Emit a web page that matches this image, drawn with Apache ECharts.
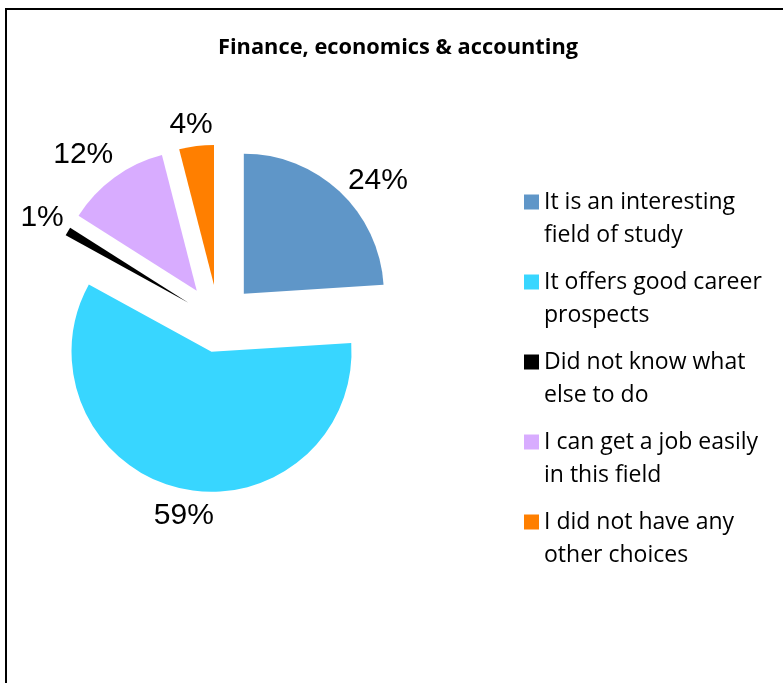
<!DOCTYPE html>
<html>
<head>
<meta charset="utf-8">
<script src="https://cdn.jsdelivr.net/npm/echarts@6/dist/echarts.min.js"></script>
<style>
  html, body { margin: 0; padding: 0; background: #fff; }
  #chart { width: 783px; height: 683px; }
</style>
</head>
<body>
<div id="chart"></div>
<script>
// Reasons for choosing the field, and the share of answers (%)
const reasons = [
  'It is an interesting\nfield of study',
  'It offers good career\nprospects',
  'Did not know what\nelse to do',
  'I can get a job easily\nin this field',
  'I did not have any\nother choices'
];
const shares = [24, 59, 1, 12, 4];

// Presentation settings
const sliceColors = ['#5F96C8', '#38D6FF', '#000000', '#D8ACFF', '#FF7F00'];
const explodeOffsets = [37, 32, 35, 37, 36];
const labelLineLengths = [[15, -2], [28, -39], [28, -20], [27.5, -15], [21.5, -19]];

const total = shares.reduce((a, b) => a + b, 0);

// One pie per slice so every slice can have its own explosion distance;
// the rest of each ring is a transparent filler.
let cumulative = 0;
const series = shares.map((v, i) => {
  const start = 90 - 360 * cumulative / total;
  cumulative += v;
  return {
    type: 'pie',
    center: [218.5, 320.6],
    radius: 140,
    startAngle: start,
    clockwise: true,
    selectedMode: 'multiple',
    selectedOffset: explodeOffsets[i],
    avoidLabelOverlap: false,
    animation: false,
    emphasis: { disabled: true },
    itemStyle: { borderWidth: 0 },
    label: {
      show: true,
      position: 'outside',
      formatter: '{c}%',
      fontFamily: 'Liberation Sans',
      fontSize: 30,
      color: '#000',
      distanceToLabelLine: 0
    },
    labelLine: { show: false, length: labelLineLengths[i][0], length2: labelLineLengths[i][1] },
    data: [
      { name: reasons[i], value: v, selected: true, itemStyle: { color: sliceColors[i] } },
      {
        name: '',
        value: total - v,
        itemStyle: { color: 'rgba(0,0,0,0)' },
        label: { show: false },
        labelLine: { show: false }
      }
    ]
  };
});

const chart = echarts.init(document.getElementById('chart'), null, { renderer: 'canvas' });
chart.setOption({
  backgroundColor: '#fff',
  animation: false,
  title: {
    text: 'Finance, economics & accounting',
    left: 218,
    top: 37,
    padding: 0,
    textStyle: { fontFamily: 'Open Sans', fontWeight: 'bold', fontSize: 21.8, color: '#000' }
  },
  legend: {
    orient: 'vertical',
    left: 524,
    top: 152.5,
    padding: 0,
    itemGap: -19,
    icon: 'rect',
    itemWidth: 15,
    itemHeight: 15,
    selectedMode: false,
    data: reasons,
    // a leading blank line keeps each square level with the first text line
    formatter: name => '\n' + name,
    textStyle: {
      fontFamily: 'Open Sans',
      fontSize: 23,
      color: '#000',
      lineHeight: 33
    }
  },
  graphic: [{
    type: 'rect',
    silent: true,
    shape: { x: 6, y: 9, width: 1000, height: 1000 },
    style: { fill: 'none', stroke: '#000', lineWidth: 2 }
  }],
  series: series
});
</script>
</body>
</html>
